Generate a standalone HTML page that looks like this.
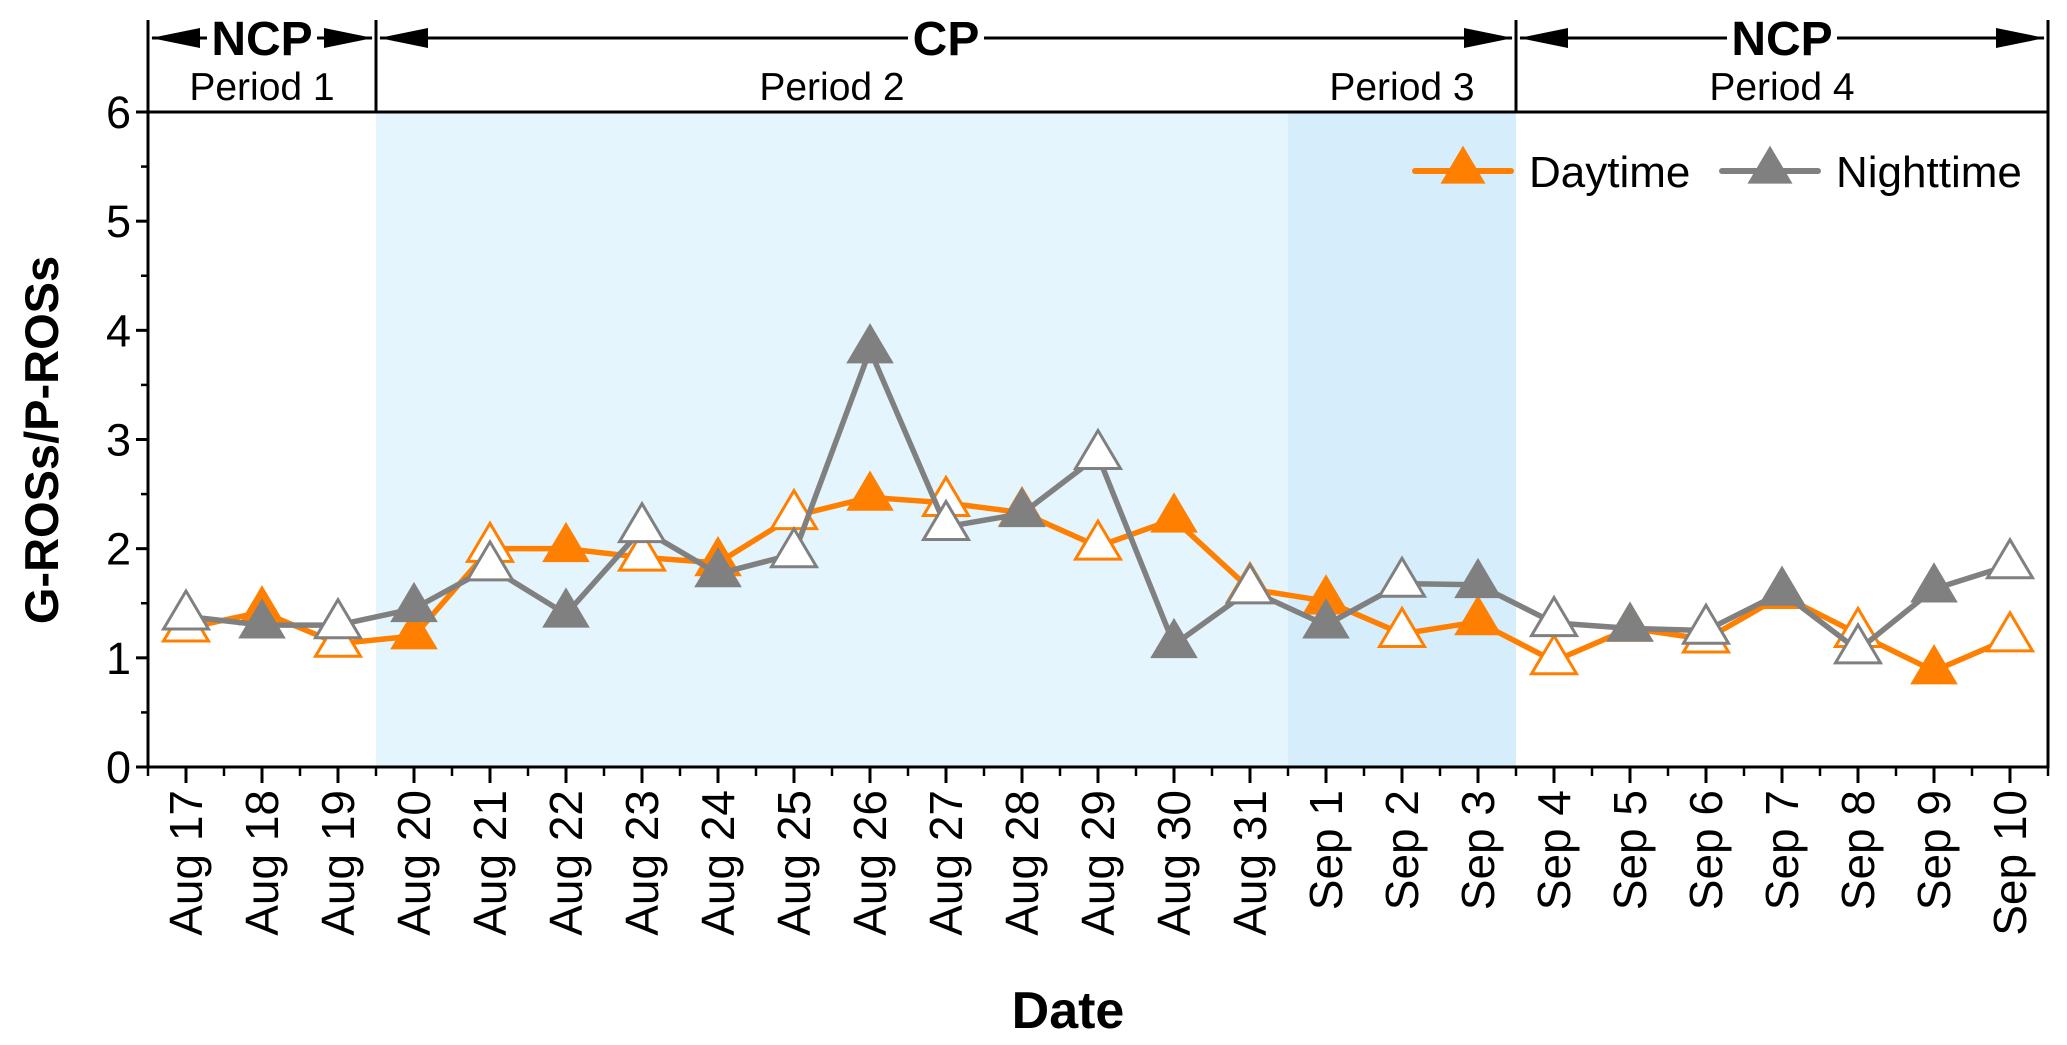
<!DOCTYPE html>
<html><head><meta charset="utf-8"><style>
html,body{margin:0;padding:0;background:#fff;}
svg{display:block;font-family:"Liberation Sans",Arial,sans-serif;}
</style></head><body>
<svg id="chart" width="2067" height="1045" viewBox="0 0 2067 1045">
<g id="bg"></g><g id="series"></g><g id="axes"></g><g id="header"></g><g id="legend"></g>
</svg>
<script>
const categories=["Aug 17","Aug 18","Aug 19","Aug 20","Aug 21","Aug 22","Aug 23","Aug 24","Aug 25","Aug 26","Aug 27","Aug 28","Aug 29","Aug 30","Aug 31","Sep 1","Sep 2","Sep 3","Sep 4","Sep 5","Sep 6","Sep 7","Sep 8","Sep 9","Sep 10"];
const daytime=[1.27,1.42,1.13,1.2,2.0,2.0,1.92,1.87,2.3,2.47,2.42,2.33,2.02,2.27,1.63,1.52,1.22,1.33,0.97,1.27,1.17,1.57,1.22,0.88,1.18];
const nighttime=[1.38,1.3,1.3,1.45,1.83,1.4,2.18,1.77,1.95,3.82,2.2,2.32,2.85,1.12,1.62,1.3,1.68,1.67,1.32,1.27,1.25,1.6,1.07,1.63,1.85];
const yTicks=[0,1,2,3,4,5,6];
const periods=[{from:-0.5,to:2.5,label:"Period 1"},{from:2.5,to:14.5,label:"Period 2"},{from:14.5,to:17.5,label:"Period 3"},{from:17.5,to:24.5,label:"Period 4"}];

const NS="http://www.w3.org/2000/svg";
const X0=186,STEP=76,Y0=767,YT=112;
const xs=i=>X0+i*STEP;
const ys=v=>Y0-v*(Y0-YT)/6;
function mk(tag,attrs,parent,txt){const e=document.createElementNS(NS,tag);for(const k in attrs)e.setAttribute(k,attrs[k]);if(txt!==undefined)e.textContent=txt;parent.appendChild(e);return e;}
const bg=document.getElementById('bg'),ser=document.getElementById('series'),ax=document.getElementById('axes'),hd=document.getElementById('header'),lg=document.getElementById('legend');

let s=mk('rect',{x:xs(2.5),y:YT,width:xs(14.5)-xs(2.5),height:Y0-YT,fill:'#e4f5fd'},bg);


s=mk('rect',{x:xs(14.5),y:YT,width:xs(17.5)-xs(14.5),height:Y0-YT,fill:'#d6edfb'},bg);



function tri(cx,cy,fill,stroke,parent,name){
  const w=45,h=38;
  const p=`${cx-w/2},${cy+h/3} ${cx+w/2},${cy+h/3} ${cx},${cy-2*h/3}`;
  const e=mk('polygon',{points:p,fill:fill,stroke:stroke,'stroke-width':fill==='#fff'?3:1.5,'stroke-linejoin':'miter'},parent);
  
  
  return e;
}
function drawSeries(vals,color,name){
  const pts=vals.map((v,i)=>xs(i)+','+ys(v)).join(' ');
  const l=mk('polyline',{points:pts,fill:'none',stroke:color,'stroke-width':5.5,'stroke-linejoin':'round'},ser);
  
  
  vals.forEach((v,i)=>{
    const filled=i%2===1;
    tri(xs(i),ys(v),filled?color:'#fff',color,ser,name+'-point-'+categories[i].toLowerCase().replace(' ','-'));
  });
}
drawSeries(daytime,'#ff8000','daytime');
drawSeries(nighttime,'#808080','nighttime');

const L=xs(-0.5),R=xs(24.5);
let a=mk('path',{d:`M${L},${YT} V${Y0} H${R} V${YT} H${L}`,fill:'none',stroke:'#000','stroke-width':3},ax);


yTicks.forEach(t=>{
  mk('line',{x1:L-12,x2:L,y1:ys(t),y2:ys(t),stroke:'#000','stroke-width':3},ax);
  if(t<6)mk('line',{x1:L-7,x2:L,y1:ys(t+0.5),y2:ys(t+0.5),stroke:'#000','stroke-width':2.5},ax);
  const tl=mk('text',{x:131,y:ys(t)+16,'text-anchor':'end','font-size':45},ax,String(t));
  
  
});
categories.forEach((c,i)=>{
  mk('line',{x1:xs(i),x2:xs(i),y1:Y0,y2:Y0+16,stroke:'#000','stroke-width':3},ax);
  mk('line',{x1:xs(i-0.5),x2:xs(i-0.5),y1:Y0,y2:Y0+9,stroke:'#000','stroke-width':2.5},ax);
  const tl=mk('text',{transform:`translate(${xs(i)+16},790) rotate(-90)`,'text-anchor':'end','font-size':46},ax,c);
  
  
});
mk('line',{x1:R,x2:R,y1:Y0,y2:Y0+9,stroke:'#000','stroke-width':2.5},ax);
let t=mk('text',{x:1068,y:1028,'text-anchor':'middle','font-size':52,'font-weight':'bold'},ax,'Date');


t=mk('text',{transform:'translate(58,440) rotate(-90)','text-anchor':'middle','font-size':47,'font-weight':'bold'},ax,'G-ROSs/P-ROSs');



const HY=38,HT=20;
[L,xs(2.5),xs(17.5),R].forEach(x=>mk('line',{x1:x,x2:x,y1:HT,y2:YT,stroke:'#000','stroke-width':3},hd));
periods.forEach(p=>{
  const tx=mk('text',{x:(xs(p.from)+xs(p.to))/2,y:100,'text-anchor':'middle','font-size':39},hd,p.label);
  
  
});
function arrowGroup(x1,x2,label,textW){
  const cx=(x1+x2)/2;
  mk('line',{x1:x1+4,x2:cx-textW/2,y1:HY,y2:HY,stroke:'#000','stroke-width':3},hd);
  mk('line',{x1:cx+textW/2,x2:x2-4,y1:HY,y2:HY,stroke:'#000','stroke-width':3},hd);
  mk('polygon',{points:`${x1+3},${HY} ${x1+52},${HY-10} ${x1+52},${HY+10}`,fill:'#000'},hd);
  mk('polygon',{points:`${x2-3},${HY} ${x2-52},${HY-10} ${x2-52},${HY+10}`,fill:'#000'},hd);
  const tx=mk('text',{x:cx,y:HY+17,'text-anchor':'middle','font-size':48,'font-weight':'bold'},hd,label);
  
  
}
arrowGroup(L,xs(2.5),'NCP',110);
arrowGroup(xs(2.5),xs(17.5),'CP',76);
arrowGroup(xs(17.5),R,'NCP',110);

function legendEntry(x,color,label){
  const g=mk('g',{},lg);
  
  
  mk('line',{x1:x,x2:x+96,y1:171,y2:171,stroke:color,'stroke-width':6,'stroke-linecap':'round'},g);
  const w=45,h=38,cx=x+48,cy=171;
  mk('polygon',{points:`${cx-w/2},${cy+h/3} ${cx+w/2},${cy+h/3} ${cx},${cy-2*h/3}`,fill:color},g);
  mk('text',{x:x+114,y:187,'font-size':44},g,label);
}
legendEntry(1415,'#ff8000','Daytime');
legendEntry(1722,'#808080','Nighttime');
</script>
</body></html>
